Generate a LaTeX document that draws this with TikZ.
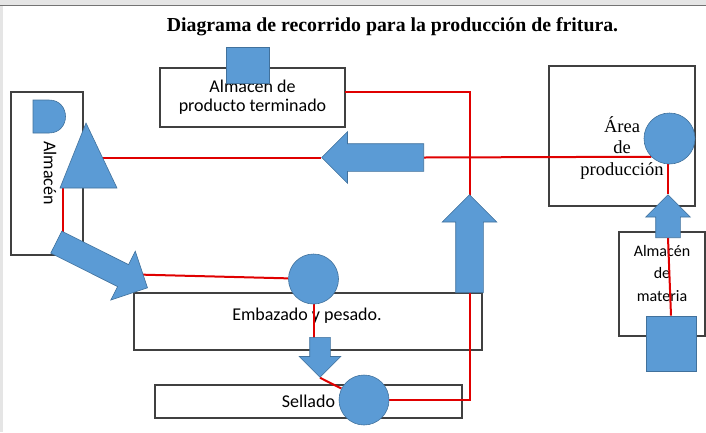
\documentclass[tikz,border=0pt]{standalone}
\usepackage{fontspec}
\setmainfont{Liberation Serif}
\newfontfamily\calib{Carlito}
\usepackage{tikz}
\usetikzlibrary{shapes.arrows}
\definecolor{azulof}{HTML}{5B9BD5}
\definecolor{bordeof}{HTML}{41719C}
\definecolor{rojoruta}{HTML}{E00000}
\pgfdeclarelayer{fondo}
\pgfdeclarelayer{lineas}
\pgfsetlayers{fondo,lineas,main}

\begin{document}
\begin{tikzpicture}[x=1pt,y=-1pt,
	caja/.style={draw=black!75, line width=1.2pt, inner sep=0pt},
	rotulo/.style={font=\calib\fontsize{18}{19}\selectfont, align=center},
	ruta/.style={draw=rojoruta, line width=2pt},
	pieza/.style={fill=azulof, draw=bordeof, line width=0.6pt, inner sep=0pt},
	flecha/.style={pieza, single arrow, anchor=tail, inner xsep=0pt}]
			\useasboundingbox (0,0) rectangle (706,432);
			\fill[black!10] (0,0) rectangle (706,5);
			\fill[black!10] (0,5) rectangle (3,432);
			\draw[black!55, line width=1pt] (0,5.5) -- (706,5.5);

			\node[font=\bfseries\fontsize{19.8}{22}\selectfont] (titulo) at (392.5,27)
				{Diagrama de recorrido para la producción de fritura.};

			% cajas
			\begin{pgfonlayer}{fondo}
			\node[caja, rotulo, minimum width=185pt, minimum height=59pt] (bPT) at (252.5,97.5)
				{Almacén de\\producto terminado};
			\node[caja, minimum width=72pt, minimum height=163pt] (bAlm) at (47,173.5) {};
			\node[rotulo, rotate=-90] (tAlm) at (50,173) {Almacén};
			\node[caja, minimum width=348pt, minimum height=57pt] (bEmb) at (308,321.5) {};
			\node[rotulo] (tEmb) at (307,316) {Embazado y pesado.};
			\node[caja, rotulo, minimum width=307pt, minimum height=33pt] (bSel) at (308.5,401.5) {Sellado};
			\node[caja, minimum width=146pt, minimum height=140pt] (bArea) at (622,136) {};
			\node[align=center, font=\fontsize{18.5}{21.5}\selectfont] (tArea) at (622,148)
				{Área\\de\\producción};
			\node[caja, minimum width=86pt, minimum height=104pt] (bMat) at (662,284) {};
			\node[align=center, font=\calib\fontsize{16}{22.5}\selectfont] (tMat) at (662,273)
				{Almacén\\de\\materia};
			\end{pgfonlayer}

			% piezas azules
			\draw[pieza] (33,100) -- (49,100) .. controls (71,100) and (71,133) .. (49,133) -- (33,133) -- cycle;
			\draw[pieza] (86,123) -- (117,188) -- (60,188) -- cycle;
			\coordinate (triR) at (95,157.5);
			\coordinate (triB) at (63,182);
			\node[pieza, minimum width=43pt, minimum height=36pt] (sq1) at (247.5,65) {};
			\node[pieza, minimum width=50pt, minimum height=55pt] (sq2) at (671,343.5) {};
			\node[pieza, circle, minimum size=50pt] (c1) at (313.5,279) {};
			\node[pieza, circle, minimum size=50pt] (c2) at (364,400) {};
			\node[pieza, circle, minimum size=51pt] (c3) at (669.5,138.5) {};

			\node[flecha, minimum height=102pt, inner ysep=13.5pt, single arrow head extend=12pt, rotate=180] (arrL) at (424,157.5) {};
			\node[flecha, minimum height=98pt, inner ysep=13.5pt, single arrow head extend=13.5pt, rotate=90] (arrU) at (469.5,293) {};
			\node[flecha, minimum height=40pt, inner ysep=10pt, single arrow head extend=10.5pt, rotate=-90] (arrD) at (320,337) {};
			\node[flecha, minimum height=43pt, inner ysep=12pt, single arrow head extend=10pt, rotate=90] (arrR) at (668,238) {};
			\node[flecha, minimum height=102pt, inner ysep=12pt, single arrow head extend=15pt, rotate=-26.6] (arrG) at (56,242) {};
			\coordinate (gH) at (136,274.5);
			\coordinate (ptR) at (345,92);

			% recorrido
			\begin{pgfonlayer}{lineas}
			\draw[ruta] (triR) -- (arrL.tip);
			\draw[ruta] (triB) -- (triB |- arrG.tail);
			\draw[ruta] (gH) -- (c1);
			\draw[ruta] (c1) -- (c1 |- arrD.center);
			\draw[ruta] (arrD.tip) -- (c2);
			\draw[ruta] (c2) -| (arrU.tip) |- (ptR);
			\draw[ruta] (arrL.tail) -- (c3.south west);
			\draw[ruta] (c3.center -| arrR.tip) -- (arrR.tip);
			\draw[ruta] (arrR.tail) -- (sq2.north);
			\end{pgfonlayer}
		\end{tikzpicture}
\end{document}
